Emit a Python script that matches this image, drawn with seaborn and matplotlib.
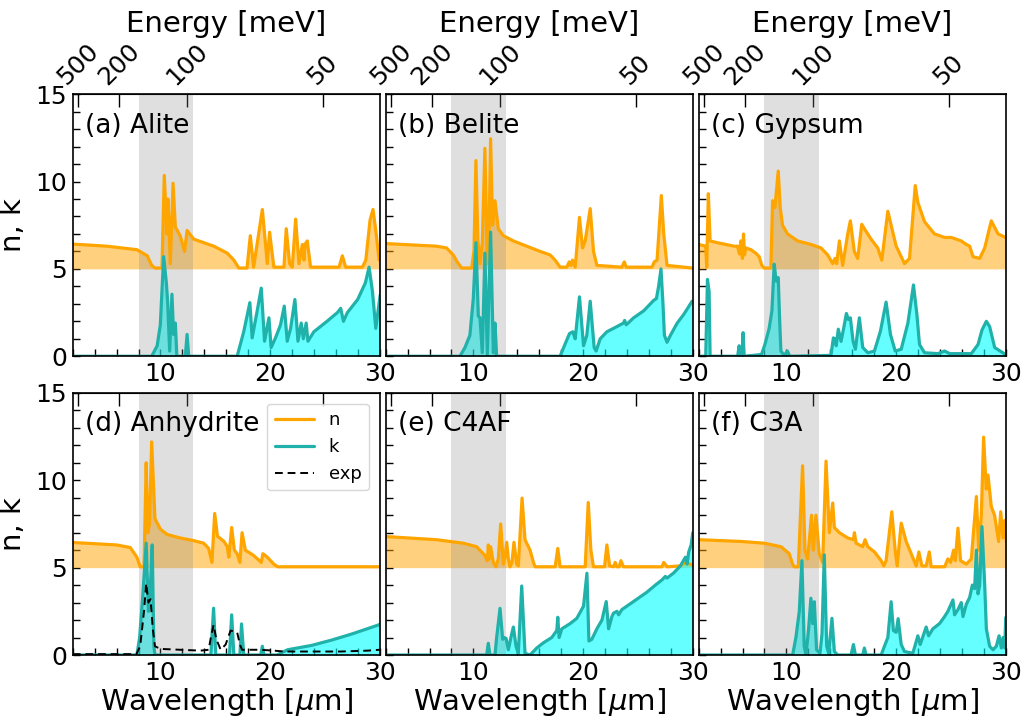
import numpy as np
import matplotlib
matplotlib.use("Agg")
import matplotlib.pyplot as plt
from matplotlib.ticker import MultipleLocator, NullLocator
import seaborn as sns

sns.set_style("ticks")
plt.rcParams["font.family"] = ["DejaVu Sans"]
plt.rcParams.update({
    "text.color": "black",
    "axes.labelcolor": "black",
    "axes.edgecolor": "black",
    "xtick.color": "black",
    "ytick.color": "black",
})

# ---------------------------------------------------------------------------
# Optical constants (wavelength in micrometres); n is shown shifted by +5
# ---------------------------------------------------------------------------
N_OFFSET = 5.0
HC_MEV_UM = 1239.84  # E[meV] = 1239.84 / lambda[um]
ENERGY_TICKS = [500, 200, 100, 50]
ATM_WINDOW = (8.0, 13.0)

alite_wl_n = [2.0, 5.1, 7.85, 8.8, 9.2, 9.5, 10.14, 10.35, 10.6, 10.69, 10.9, 11.15, 11.36, 11.8, 12.2, 12.43,
              13.04, 14.87, 16.1, 16.7, 17.15, 17.9, 18.2, 18.5, 19.3, 19.75, 19.96, 20.35, 21.27, 21.48, 21.79,
              22.03, 22.34, 22.64, 22.95, 23.1, 23.19, 23.4, 23.7, 26.3, 26.6, 26.9, 28.43, 28.74, 29.13, 29.4,
              29.65, 29.96]
alite_n = [1.42, 1.30, 1.10, 0.75, 0.20, 0.05, 0.05, 5.35, 2.00, 4.00, 0.30, 4.90, 2.40, 1.90, 1.00, 2.20,
           1.70, 1.30, 0.90, 0.50, 0.05, 0.05, 1.90, 0.10, 3.40, 0.30, 2.10, 0.10, 0.10, 2.30, 0.30,
           0.10, 2.85, 0.30, 1.40, 0.50, 1.40, 1.60, 0.10, 0.10, 0.75, 0.10, 0.10, 0.50, 2.80, 3.40,
           2.20, 0.50]
alite_wl_k = [2.0, 9.2, 9.7, 9.99, 10.29, 10.54, 10.66, 10.84, 11.05, 11.2, 11.36, 11.5, 12.27, 12.43, 12.58,
              17.0, 17.6, 18.16, 18.37, 18.83, 19.2, 19.5, 19.9, 20.1, 20.5, 20.96, 21.3, 21.57, 21.88, 22.27,
              22.55, 22.85, 23.04, 23.3, 23.46, 24.0, 25.2, 26.15, 26.45, 26.7, 27.06, 28.0, 28.7, 29.04,
              29.35, 29.65, 30.05]
alite_k = [0.0, 0.0, 0.6, 1.8, 5.7, 4.2, 3.1, 0.3, 3.55, 1.25, 1.9, 0.0, 0.0, 1.25, 0.0,
           0.0, 1.4, 3.07, 1.05, 2.6, 3.9, 0.86, 2.2, 0.5, 1.05, 1.8, 2.87, 0.86, 1.6, 3.25,
           0.86, 1.9, 1.0, 1.9, 0.86, 1.4, 2.0, 2.5, 2.74, 2.0, 2.5, 3.25, 4.2, 5.1,
           3.7, 1.6, 3.5]

belite_wl_n = [2.0, 6.63, 7.55, 8.16, 8.52, 8.92, 9.84, 10.05, 10.23, 10.41, 10.6, 10.81, 11.05, 11.27, 11.42,
               11.57, 11.75, 11.97, 12.27, 12.73, 13.65, 14.87, 16.09, 17.0, 17.46, 17.91, 18.52, 18.74, 18.9,
               19.04, 19.29, 19.68, 19.96, 20.2, 20.66, 20.96, 21.27, 23.55, 23.77, 23.95, 26.3, 26.5, 26.76,
               27.15, 27.37, 27.67, 29.96]
belite_n = [1.45, 1.3, 1.2, 0.8, 0.4, 0.05, 0.05, 1.0, 6.2, 1.6, 0.3, 1.5, 6.9, 0.3, 1.8,
            7.45, 2.5, 3.9, 2.3, 1.9, 1.6, 1.3, 1.0, 0.8, 0.5, 0.1, 0.1, 0.4, 0.2,
            0.5, 0.1, 2.95, 1.2, 1.6, 3.45, 1.0, 0.2, 0.1, 0.4, 0.1, 0.1, 0.4, 0.5,
            4.2, 2.0, 0.2, 0.05]
belite_wl_k = [2.0, 8.77, 9.23, 9.68, 9.99, 10.23, 10.45, 10.6, 10.81, 11.05, 11.27, 11.57, 11.82, 11.97, 12.12,
               17.91, 18.37, 18.77, 19.07, 19.29, 19.68, 20.05, 20.35, 20.66, 21.02, 21.2, 21.57, 22.18, 23.1,
               23.7, 23.8, 23.95, 24.62, 25.54, 26.15, 26.45, 26.7, 26.9, 27.12, 27.3, 27.43, 27.67, 27.98,
               28.6, 29.2, 29.96]
belite_k = [0.0, 0.0, 0.5, 1.2, 3.3, 6.5, 2.3, 2.2, 0.2, 5.9, 0.1, 7.1, 0.2, 1.9, 0.0,
            0.0, 0.7, 1.3, 1.4, 1.0, 3.4, 0.6, 1.2, 3.15, 0.5, 0.3, 1.0, 1.4, 1.7,
            1.9, 2.05, 1.8, 2.2, 2.6, 3.0, 3.2, 3.3, 4.0, 5.0, 3.0, 1.2, 0.8, 1.2,
            1.9, 2.4, 3.15]

gypsum_wl_n = [2.0, 2.64, 2.73, 2.88, 3.04, 3.7, 5.23, 5.54, 5.72, 5.84, 5.99, 6.09, 6.18, 6.3, 6.76, 7.21,
               7.52, 7.76, 7.98, 8.59, 8.74, 8.95, 9.26, 9.44, 9.65, 10.11, 11.02, 12.24, 13.16, 13.77, 14.23,
               14.44, 14.59, 14.84, 15.14, 15.6, 15.84, 16.2, 16.51, 16.88, 17.12, 17.73, 18.34, 18.71, 19.26,
               19.56, 20.02, 20.48, 20.78, 21.24, 21.76, 22.0, 22.61, 23.52, 24.44, 25.05, 25.96, 26.42, 26.73,
               27.03, 27.64, 28.1, 28.7, 29.32, 30.0]
gypsum_n = [1.4, 1.3, 0.1, 4.3, 1.6, 1.5, 1.3, 1.3, 0.85, 1.6, 0.6, 2.0, 0.8, 1.2, 1.1, 0.9,
            0.7, 0.2, 0.05, 0.05, 3.9, 3.5, 5.6, 3.5, 2.5, 2.0, 1.6, 1.4, 1.2, 0.8, 0.3,
            0.6, 0.3, 1.6, 0.2, 2.0, 2.75, 1.0, 0.6, 2.55, 2.3, 1.7, 1.2, 0.5, 3.3,
            2.5, 1.3, 0.7, 0.3, 0.6, 4.77, 3.8, 2.7, 2.0, 1.8, 1.8, 1.6, 1.4, 1.3,
            0.7, 0.6, 1.2, 2.75, 2.0, 1.8]
gypsum_wl_k = [2.0, 2.64, 2.8, 2.95, 3.04, 5.55, 5.69, 5.8, 5.95, 6.05, 6.15, 7.73, 8.04, 8.43, 8.68, 8.89,
               9.07, 9.26, 9.38, 9.5, 9.8, 10.1, 10.3, 14.07, 14.29, 14.44, 14.55, 14.74, 14.99, 15.23, 15.48,
               15.66, 15.84, 16.09, 16.3, 16.66, 16.97, 17.43, 18.04, 18.59, 19.1, 19.5, 19.93, 20.48, 21.09,
               21.6, 21.91, 22.15, 22.61, 23.83, 24.44, 24.9, 26.88, 27.49, 27.85, 28.25, 28.55, 29.01, 30.0]
gypsum_k = [0.0, 0.0, 4.4, 3.7, 0.0, 0.0, 0.6, 0.1, 0.1, 1.35, 0.0, 0.1, 0.67, 1.6, 2.6, 5.27,
            4.3, 4.5, 2.2, 0.3, 0.05, 0.3, 0.0, 0.05, 1.05, 1.0, 0.6, 1.55, 0.85, 1.6, 2.45,
            2.1, 2.2, 0.85, 0.4, 2.2, 0.5, 0.2, 0.3, 1.45, 3.1, 1.25, 0.3, 0.4, 1.9,
            4.08, 2.4, 0.67, 0.2, 0.15, 0.3, 0.15, 0.15, 0.67, 1.5, 2.0, 1.7, 0.5, 0.1]

anhydrite_wl_n = [2.0, 6.0, 7.25, 7.85, 8.15, 8.5, 8.6, 8.7, 8.85, 9.0, 9.2, 9.5, 10.0, 10.6, 11.8, 13.0,
                  13.95, 14.4, 14.7, 14.95, 15.2, 15.8, 16.1, 16.24, 16.5, 16.75, 17.0, 17.25, 17.45, 17.75,
                  18.5, 19.2, 19.35, 19.75, 20.35, 20.7, 30.0]
anhydrite_n = [1.44, 1.3, 1.15, 0.6, 0.05, 0.05, 3.0, 6.0, 2.0, 2.5, 7.2, 2.8, 2.2, 1.9, 1.7, 1.55,
               1.4, 1.1, 0.3, 3.1, 1.8, 1.5, 1.2, 0.6, 2.3, 1.0, 0.8, 0.3, 2.0, 1.0,
               0.7, 0.3, 0.8, 0.6, 0.2, 0.05, 0.05]
anhydrite_wl_k = [2.0, 7.85, 8.1, 8.4, 8.7, 8.9, 9.05, 9.25, 9.4, 9.5, 14.6, 14.85, 15.05, 16.3, 16.5, 16.7,
                  17.25, 17.4, 17.6, 19.15, 19.3, 19.45, 20.65, 20.95, 21.6, 23.8, 25.6, 27.45, 29.9, 30.0]
anhydrite_k = [0.0, 0.0, 1.0, 3.5, 6.4, 2.5, 3.5, 6.3, 0.5, 0.0, 0.0, 2.68, 0.0, 0.0, 2.3, 0.0,
               0.0, 1.78, 0.0, 0.0, 0.5, 0.0, 0.0, 0.1, 0.3, 0.55, 0.85, 1.2, 1.72, 1.75]
anhydrite_wl_exp = [2.0, 7.8, 8.15, 8.5, 8.7, 8.9, 9.1, 9.3, 9.5, 10.0, 11.8, 13.65, 14.4, 14.6, 14.85, 15.1,
                    15.5, 15.95, 16.4, 17.0, 17.25, 17.45, 19.1, 20.35, 21.3, 23.4, 26.45, 28.9, 30.0]
anhydrite_exp = [0.05, 0.05, 0.5, 2.5, 4.1, 3.0, 3.2, 1.5, 0.5, 0.35, 0.3, 0.25, 0.3, 1.0, 1.72, 0.9,
                 0.3, 0.6, 1.4, 1.3, 0.6, 0.3, 0.3, 0.25, 0.2, 0.2, 0.2, 0.25, 0.3]

c4af_wl_n = [2.0, 6.63, 9.07, 10.29, 11.05, 11.27, 11.36, 11.45, 11.57, 11.82, 12.06, 12.27, 12.49, 12.73,
             12.88, 13.04, 13.19, 13.34, 13.52, 13.7, 13.95, 14.1, 14.44, 14.71, 15.17, 15.48, 15.63, 17.46,
             17.7, 17.91, 20.2, 20.48, 20.72, 20.96, 21.97, 22.18, 22.43, 22.79, 22.94, 23.1, 23.3, 23.46,
             23.7, 27.21, 27.37, 27.67, 28.89, 29.35, 30.0]
c4af_n = [1.78, 1.6, 1.4, 1.2, 0.7, 0.4, 1.3, 0.5, 1.2, 0.3, 0.05, 0.5, 2.5, 0.2,
          0.6, 1.45, 0.5, 0.05, 0.3, 1.45, 0.2, 0.1, 3.98, 1.6, 1.0, 0.3, 0.05, 0.05,
          1.1, 0.05, 0.05, 3.73, 1.0, 0.05, 0.05, 1.3, 0.1, 0.05, 0.3, 0.05, 0.05, 0.4,
          0.05, 0.05, 0.3, 0.05, 0.1, 0.3, 0.15]
c4af_wl_k = [2.0, 11.21, 11.36, 11.51, 11.97, 12.12, 12.43, 12.67, 12.82, 12.98, 13.19, 13.49, 13.65, 13.89,
             14.1, 14.41, 14.71, 15.17, 15.78, 16.39, 17.15, 17.61, 17.7, 17.82, 18.07, 18.83, 19.44, 20.05,
             20.36, 20.54, 20.81, 21.27, 21.73, 22.12, 22.34, 22.64, 22.79, 23.1, 23.25, 23.55, 24.01, 24.93,
             25.84, 26.6, 27.21, 27.52, 27.67, 28.28, 28.89, 29.35, 29.5, 29.65, 29.87, 30.02]
c4af_k = [0.0, 0.0, 0.67, 0.0, 0.0, 1.0, 2.67, 0.9, 1.0, 0.95, 0.3, 1.2, 1.6, 0.5,
          0.1, 3.95, 0.1, 0.0, 0.4, 0.7, 1.0, 1.4, 2.16, 1.0, 1.5, 1.8, 2.1, 2.8,
          4.68, 0.8, 0.9, 1.5, 2.0, 3.06, 1.5, 2.2, 2.4, 2.5, 2.3, 2.6, 2.8, 3.2,
          3.6, 4.0, 4.3, 4.5, 4.4, 4.7, 5.1, 5.6, 5.2, 5.9, 6.3, 7.0]

c3a_wl_n = [2.0, 5.84, 7.98, 9.5, 10.26, 10.57, 10.72, 11.09, 11.48, 11.7, 11.94, 12.3, 12.46, 12.7, 13.0,
            13.31, 13.62, 13.92, 14.23, 14.38, 14.84, 15.6, 16.12, 16.21, 16.36, 16.97, 17.18, 17.43, 18.04,
            18.65, 18.89, 19.1, 19.62, 19.93, 20.11, 20.48, 20.93, 21.39, 21.85, 22.09, 22.37, 22.76, 23.04,
            23.22, 24.44, 24.74, 24.99, 25.26, 25.41, 25.66, 25.9, 26.42, 26.88, 27.34, 27.55, 27.79, 28.0,
            28.24, 28.4, 28.7, 29.0, 29.37, 29.56, 29.77, 29.93, 30.08]
c3a_n = [1.6, 1.5, 1.4, 1.2, 0.8, 0.2, 0.05, 0.05, 5.83, 1.0, 0.5, 3.0, 1.0, 3.0, 0.8,
         0.3, 6.1, 2.0, 3.7, 2.3, 2.0, 1.7, 1.6, 2.0, 1.4, 1.2, 1.6, 1.2, 0.9,
         0.4, 0.1, 0.4, 3.2, 1.0, 0.1, 2.55, 1.5, 0.8, 0.1, 0.9, 0.1, 0.1, 0.9,
         0.05, 0.05, 0.5, 0.3, 1.0, 0.4, 2.26, 0.4, 0.2, 0.5, 4.07, 1.0, 3.0, 7.47,
         4.5, 5.3, 3.5, 3.0, 1.5, 3.2, 1.7, 2.7, 1.5]
c3a_wl_k = [2.0, 10.57, 10.87, 11.18, 11.42, 11.63, 11.79, 12.03, 12.24, 12.4, 12.55, 12.76, 13.07, 13.25,
            13.46, 13.68, 13.86, 14.16, 14.38, 14.68, 15.9, 16.12, 16.3, 16.97, 17.12, 17.27, 18.65, 18.95,
            19.26, 19.56, 19.77, 20.02, 20.2, 20.48, 20.78, 21.54, 22.0, 22.21, 22.76, 22.98, 23.37, 23.98,
            24.44, 24.74, 25.2, 25.35, 25.66, 25.96, 26.12, 26.42, 26.73, 26.97, 27.18, 27.34, 27.49, 27.64,
            27.85, 28.1, 28.25, 28.55, 28.86, 29.16, 29.41, 29.62, 29.77, 29.93, 30.02]
c3a_k = [0.0, 0.0, 1.0, 2.5, 5.4, 0.5, 0.0, 1.5, 3.25, 1.8, 3.05, 0.3, 0.1, 1.2,
         5.73, 0.5, 0.1, 2.1, 0.2, 0.0, 0.0, 0.6, 0.0, 0.0, 0.4, 0.0, 0.0, 0.5,
         1.0, 3.05, 1.4, 1.3, 2.08, 0.6, 0.2, 0.1, 1.1, 0.6, 1.6, 1.1, 1.5, 1.8,
         2.2, 2.5, 3.15, 2.3, 2.6, 3.0, 2.2, 2.9, 3.3, 4.0, 3.8, 6.0, 3.5, 4.0,
         7.35, 4.0, 1.5, 0.5, 0.3, 0.5, 1.1, 0.4, 1.0, 0.4, 2.15]

panel_titles = ["(a) Alite", "(b) Belite", "(c) Gypsum", "(d) Anhydrite", "(e) C4AF", "(f) C3A"]
panel_data = [
    (alite_wl_n, alite_n, alite_wl_k, alite_k),
    (belite_wl_n, belite_n, belite_wl_k, belite_k),
    (gypsum_wl_n, gypsum_n, gypsum_wl_k, gypsum_k),
    (anhydrite_wl_n, anhydrite_n, anhydrite_wl_k, anhydrite_k),
    (c4af_wl_n, c4af_n, c4af_wl_k, c4af_k),
    (c3a_wl_n, c3a_n, c3a_wl_k, c3a_k),
]

N_COLOR = "orange"
K_LINE = "lightseagreen"
K_FILL = "cyan"


def wl_to_mev(x):
    x = np.asarray(x, dtype=float)
    with np.errstate(divide="ignore", invalid="ignore"):
        return HC_MEV_UM / x


fig, axes = plt.subplots(2, 3, figsize=(10.25, 7.19), dpi=100, sharey=True)
fig.subplots_adjust(left=0.071, right=0.981, top=0.869, bottom=0.089, wspace=0.02, hspace=0.14)

for i, (ax, title, (wn, n, wk, k)) in enumerate(zip(axes.flat, panel_titles, panel_data)):
    wn = np.asarray(wn)
    wk = np.asarray(wk)
    n_shift = np.asarray(n) + N_OFFSET
    k = np.asarray(k)

    ax.fill_between(wn, N_OFFSET, n_shift, color=N_COLOR, alpha=0.5, lw=0, zorder=1)
    ax.fill_between(wk, 0, k, color=K_FILL, alpha=0.6, lw=0, zorder=1)
    ax.axvspan(*ATM_WINDOW, color="gray", alpha=0.25, lw=0, zorder=1.5)

    sns.lineplot(x=wn, y=n_shift, ax=ax, color=N_COLOR, lw=2.3, label="n",
                 estimator=None, sort=False, legend=False, zorder=2)
    sns.lineplot(x=wk, y=k, ax=ax, color=K_LINE, lw=2.3, label="k",
                 estimator=None, sort=False, legend=False, zorder=2.1)
    if i == 3:
        sns.lineplot(x=anhydrite_wl_exp, y=anhydrite_exp, ax=ax, color="black", lw=1.4,
                     linestyle=(0, (4, 2.5)), label="exp", estimator=None, sort=False,
                     legend=False, zorder=2.2)
        ax.legend(loc="upper right", fontsize=13, handlelength=2.2, borderaxespad=0.6)

    ax.text(0.04, 0.88, title, transform=ax.transAxes, fontsize=19, va="center", ha="left")

    ax.set_xlim(2, 30)
    ax.set_ylim(0, 15)
    ax.set_xticks([10, 20, 30])
    ax.xaxis.set_minor_locator(MultipleLocator(2))
    ax.set_yticks([0, 5, 10, 15])
    ax.yaxis.set_minor_locator(MultipleLocator(1))
    ax.tick_params(which="both", direction="in", top=False, right=False, labelsize=18, width=1)
    ax.tick_params(which="major", length=5, pad=4)
    ax.tick_params(which="minor", length=5)
    for sp in ax.spines.values():
        sp.set_linewidth(1.2)
    ax.set_xlabel("")
    ax.set_ylabel("")

    sec = ax.secondary_xaxis("top", functions=(wl_to_mev, wl_to_mev))
    sec.set_xticks(ENERGY_TICKS)
    sec.xaxis.set_minor_locator(NullLocator())
    sec.tick_params(direction="in", length=9, width=1, labelsize=18, labelrotation=45, pad=3)
    if i < 3:
        sec.set_xlabel("Energy [meV]", fontsize=21, labelpad=5)
    else:
        sec.tick_params(labeltop=False)
        ax.set_xlabel("Wavelength [$\\mu$m]", fontsize=21, labelpad=1)
    if i % 3 == 0:
        ax.set_ylabel("n, k", fontsize=21, labelpad=6)

fig.savefig("out.png", dpi=100)
